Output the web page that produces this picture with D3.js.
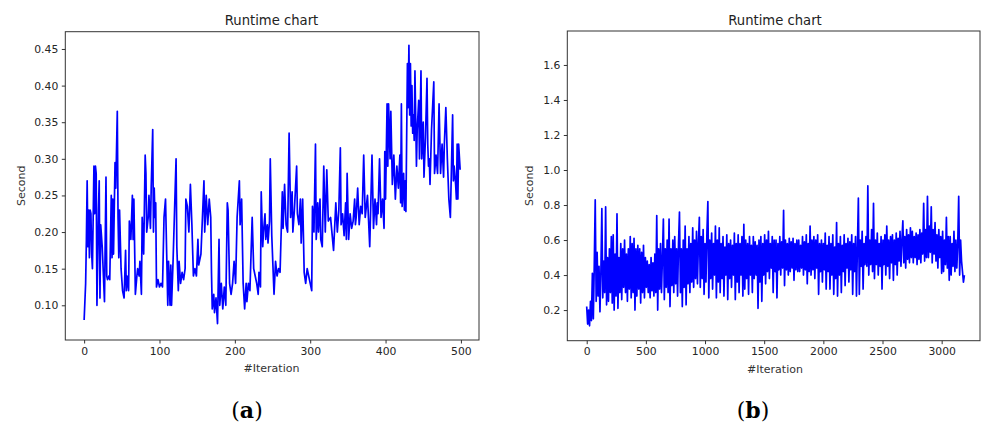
<!DOCTYPE html>
<html>
<head>
<meta charset="utf-8">
<script src="https://cdn.jsdelivr.net/npm/d3@7"></script>
<style>
  body { margin: 0; background: #fff; }
  svg { display: block; font-family: "DejaVu Sans", sans-serif; }
  .tick text { fill: #262626; }
</style>
</head>
<body>
<div id="graph"></div>
<script>
// panel (a) : 500 iterations
let iterA = [0,2,3,4,5,6,7,8,9,10,11,13,14,15,16,17,19,20,21,22,24,27,29,30,31,33,34,36,37,38,39,41,42,44,45,46,47,49,51,53,55,56,57,59,60,62,64,65,66,68,70,71,73,74,76,77,79,81,82,83,85,86,88,89,91,92,93,94,95,96,98,100,102,104,106,108,111,112,114,115,116,118,120,122,123,125,126,128,130,132,134,135,137,139,141,143,145,147,149,151,152,155,157,159,160,162,164,166,168,169,170,172,173,175,177,179,180,182,184,186,188,190,191,193,195,197,199,201,203,206,207,209,211,213,215,216,218,220,223,225,227,229,231,232,234,235,237,238,240,241,243,244,246,247,249,252,254,256,258,260,263,264,266,268,270,272,274,276,277,279,282,283,285,287,288,290,292,294,296,298,300,302,303,305,307,308,310,311,313,314,316,318,320,322,324,327,331,334,336,338,340,341,343,345,347,348,349,351,353,355,357,359,360,361,363,365,367,369,371,373,376,379,382,384,386,388,389,390,392,394,396,398,399,400,402,403,404,406,407,409,411,413,415,417,419,420,421,422,424,425,426,427,429,430,431,432,433,434,435,436,437,438,439,441,442,444,445,447,448,450,451,453,455,456,457,458,459,461,464,465,467,469,471,473,475,477,478,480,482,484,486,489,490,491,493,494,495,496,497,499];
let secA = [0.08,0.13,0.19,0.27,0.18,0.23,0.165,0.23,0.225,0.17,0.15,0.29,0.225,0.29,0.28,0.10,0.23,0.27,0.11,0.21,0.18,0.105,0.275,0.14,0.135,0.14,0.135,0.25,0.165,0.245,0.17,0.295,0.26,0.365,0.22,0.165,0.23,0.15,0.12,0.11,0.175,0.12,0.14,0.12,0.215,0.19,0.25,0.19,0.245,0.115,0.14,0.15,0.14,0.16,0.115,0.22,0.17,0.305,0.28,0.20,0.22,0.25,0.205,0.26,0.34,0.20,0.26,0.22,0.24,0.125,0.135,0.125,0.13,0.125,0.22,0.245,0.10,0.16,0.10,0.155,0.10,0.16,0.23,0.30,0.18,0.12,0.16,0.13,0.145,0.135,0.15,0.245,0.235,0.20,0.265,0.21,0.14,0.15,0.14,0.19,0.155,0.17,0.22,0.27,0.20,0.25,0.21,0.245,0.22,0.145,0.095,0.115,0.09,0.11,0.075,0.19,0.10,0.13,0.095,0.125,0.10,0.24,0.23,0.13,0.115,0.13,0.16,0.13,0.22,0.27,0.21,0.245,0.13,0.095,0.13,0.105,0.13,0.12,0.22,0.15,0.14,0.13,0.115,0.145,0.125,0.255,0.18,0.20,0.225,0.19,0.21,0.185,0.215,0.30,0.195,0.115,0.16,0.14,0.15,0.145,0.255,0.205,0.265,0.21,0.20,0.335,0.22,0.255,0.20,0.23,0.29,0.225,0.21,0.245,0.185,0.245,0.145,0.13,0.15,0.14,0.13,0.12,0.235,0.20,0.32,0.19,0.24,0.20,0.245,0.19,0.18,0.29,0.20,0.285,0.215,0.22,0.175,0.24,0.20,0.23,0.315,0.21,0.225,0.195,0.24,0.19,0.28,0.19,0.225,0.205,0.215,0.245,0.21,0.22,0.26,0.21,0.235,0.225,0.305,0.22,0.25,0.18,0.305,0.205,0.245,0.21,0.24,0.225,0.30,0.22,0.245,0.205,0.31,0.245,0.375,0.29,0.375,0.30,0.365,0.265,0.305,0.245,0.29,0.26,0.305,0.24,0.375,0.235,0.28,0.23,0.27,0.228,0.43,0.37,0.455,0.36,0.43,0.345,0.40,0.335,0.36,0.325,0.42,0.29,0.34,0.38,0.30,0.42,0.30,0.35,0.275,0.33,0.41,0.32,0.29,0.30,0.265,0.34,0.405,0.28,0.305,0.28,0.375,0.28,0.32,0.275,0.32,0.37,0.30,0.245,0.22,0.36,0.27,0.29,0.265,0.245,0.32,0.245,0.32,0.285];

// panel (b) : ~3200 iterations, sampled every 8 iterations off the picture
let iterB = d3.range(0, 3200, 8);
let secB = [
  0.22,0.12,0.20,0.11,0.25,0.14,0.41,0.15,
  0.46,0.83,0.25,0.53,0.28,0.45,0.19,0.42,
  0.78,0.27,0.48,0.30,0.79,0.23,0.50,0.25,
  0.55,0.30,0.62,0.24,0.63,0.20,0.52,0.28,
  0.75,0.21,0.50,0.30,0.58,0.26,0.55,0.33,
  0.60,0.30,0.52,0.25,0.55,0.32,0.62,0.27,
  0.58,0.30,0.61,0.20,0.55,0.28,0.57,0.32,
  0.55,0.24,0.53,0.30,0.57,0.27,0.50,0.33,
  0.48,0.30,0.46,0.27,0.50,0.31,0.47,0.28,
  0.52,0.30,0.74,0.20,0.55,0.32,0.58,0.30,
  0.50,0.72,0.26,0.55,0.33,0.60,0.30,0.72,
  0.22,0.55,0.34,0.60,0.30,0.62,0.35,0.55,
  0.28,0.58,0.76,0.30,0.55,0.22,0.60,0.33,
  0.68,0.23,0.55,0.35,0.62,0.30,0.58,0.36,
  0.67,0.33,0.60,0.38,0.65,0.35,0.58,0.73,
  0.33,0.62,0.38,0.66,0.29,0.58,0.36,0.64,
  0.82,0.27,0.60,0.38,0.64,0.32,0.58,0.40,
  0.68,0.27,0.60,0.36,0.67,0.30,0.58,0.38,
  0.62,0.28,0.56,0.40,0.63,0.26,0.58,0.38,
  0.60,0.33,0.57,0.40,0.64,0.26,0.58,0.36,
  0.63,0.30,0.58,0.40,0.62,0.28,0.69,0.32,
  0.60,0.38,0.58,0.29,0.62,0.40,0.57,0.30,
  0.62,0.38,0.59,0.40,0.57,0.21,0.60,0.36,
  0.62,0.25,0.58,0.40,0.63,0.35,0.60,0.42,
  0.65,0.38,0.58,0.44,0.62,0.30,0.60,0.42,
  0.60,0.27,0.58,0.43,0.62,0.40,0.59,0.44,
  0.77,0.34,0.60,0.43,0.58,0.40,0.61,0.42,
  0.59,0.44,0.61,0.37,0.58,0.43,0.60,0.42,
  0.60,0.42,0.57,0.44,0.62,0.40,0.59,0.43,
  0.63,0.35,0.58,0.42,0.68,0.40,0.60,0.43,
  0.62,0.38,0.60,0.44,0.63,0.29,0.58,0.42,
  0.60,0.36,0.58,0.43,0.64,0.32,0.57,0.42,
  0.62,0.32,0.58,0.40,0.63,0.29,0.56,0.38,
  0.70,0.28,0.58,0.40,0.62,0.30,0.57,0.42,
  0.63,0.34,0.58,0.44,0.61,0.36,0.59,0.43,
  0.63,0.29,0.58,0.42,0.62,0.28,0.56,0.84,
  0.29,0.60,0.45,0.65,0.32,0.58,0.46,0.62,
  0.45,0.91,0.40,0.60,0.46,0.66,0.42,0.81,
  0.38,0.60,0.46,0.64,0.40,0.58,0.45,0.62,
  0.32,0.60,0.46,0.63,0.40,0.68,0.45,0.60,
  0.38,0.62,0.47,0.63,0.37,0.60,0.46,0.64,
  0.40,0.61,0.48,0.65,0.45,0.60,0.71,0.47,
  0.62,0.44,0.66,0.49,0.63,0.47,0.67,0.50,
  0.65,0.47,0.62,0.50,0.64,0.46,0.63,0.49,
  0.66,0.47,0.64,0.52,0.81,0.48,0.66,0.50,
  0.85,0.50,0.68,0.53,0.79,0.47,0.66,0.52,
  0.70,0.48,0.63,0.44,0.66,0.50,0.62,0.41,
  0.65,0.42,0.60,0.46,0.73,0.44,0.62,0.37,
  0.62,0.40,0.58,0.45,0.65,0.42,0.60,0.44,
  0.58,0.85,0.40,0.60,0.48,0.42,0.36,0.40
];

// axis limits + ticks
let xLimA = [-25, 524], yLimA = [0.0526, 0.4736];
let xTicksA = [0, 100, 200, 300, 400, 500];
let yTicksA = [0.10, 0.15, 0.20, 0.25, 0.30, 0.35, 0.40, 0.45];
let xLimB = [-164, 3324], yLimB = [0.025, 1.794];
let xTicksB = [0, 500, 1000, 1500, 2000, 2500, 3000];
let yTicksB = [0.2, 0.4, 0.6, 0.8, 1.0, 1.2, 1.4, 1.6];

let svg = d3.select("#graph")
  .append("svg")
  .attr("width", 981)
  .attr("height", 428);

function drawPanel(opt) {
  let x = d3.scaleLinear().domain(opt.xLim).range([opt.left, opt.right]);
  let y = d3.scaleLinear().domain(opt.yLim).range([opt.bottom, opt.top]);
  let g = svg.append("g");

  g.append("clipPath").attr("id", opt.id)
    .append("rect")
    .attr("x", opt.left).attr("y", opt.top)
    .attr("width", opt.right - opt.left).attr("height", opt.bottom - opt.top);

  // the line
  let pts = opt.xs.map((d, i) => [d, opt.ys[i]]);
  g.append("path")
    .datum(pts)
    .attr("clip-path", "url(#" + opt.id + ")")
    .attr("fill", "none")
    .attr("stroke", "#0000ff")
    .attr("stroke-width", opt.lw)
    .attr("stroke-linejoin", "round")
    .attr("d", d3.line().x(d => x(d[0])).y(d => y(d[1])));

  // axes
  let xa = g.append("g")
    .attr("transform", "translate(0," + opt.bottom + ")")
    .call(d3.axisBottom(x).tickValues(opt.xTicks).tickSize(3.5).tickPadding(3.5).tickFormat(d3.format("d")));
  let ya = g.append("g")
    .attr("transform", "translate(" + opt.left + ",0)")
    .call(d3.axisLeft(y).tickValues(opt.yTicks).tickSize(3.5).tickPadding(3.5).tickFormat(d3.format(opt.yFmt)));
  [xa, ya].forEach(a => {
    a.select(".domain").remove();
    a.selectAll("line").attr("stroke", "#333");
    a.selectAll("text").attr("font-size", 10.8).attr("font-family", "DejaVu Sans");
  });

  // frame
  g.append("rect")
    .attr("x", opt.left).attr("y", opt.top)
    .attr("width", opt.right - opt.left).attr("height", opt.bottom - opt.top)
    .attr("fill", "none").attr("stroke", "#333").attr("stroke-width", 1);

  g.append("text").attr("x", opt.titleX).attr("y", 24.5)
    .attr("text-anchor", "middle").attr("font-size", 13.2).attr("fill", "#222")
    .text("Runtime chart");
  g.append("text").attr("x", opt.titleX).attr("y", opt.xlabY)
    .attr("text-anchor", "middle").attr("font-size", 11).attr("fill", "#333")
    .text("#Iteration");
  g.append("text")
    .attr("transform", "translate(" + opt.ylabX + "," + (opt.top + opt.bottom) / 2 + ") rotate(-90)")
    .attr("text-anchor", "middle").attr("font-size", 11).attr("fill", "#333")
    .text("Second");

  // sub caption (a)/(b)
  let cap = g.append("text").attr("x", opt.capX).attr("y", 418)
    .attr("text-anchor", "middle").attr("font-size", 22)
    .attr("font-family", "'DejaVu Serif', serif").attr("fill", "#000");
  cap.append("tspan").text("(");
  cap.append("tspan").attr("font-weight", "bold").text(opt.cap);
  cap.append("tspan").text(")");
}

drawPanel({id: "clipA", xs: iterA, ys: secA, xLim: xLimA, yLim: yLimA,
  xTicks: xTicksA, yTicks: yTicksA, yFmt: ".2f",
  left: 65.3, right: 479, top: 31.7, bottom: 340, lw: 1.7,
  titleX: 271.5, xlabY: 371.5, ylabX: 24.5, capX: 247, cap: "a"});

drawPanel({id: "clipB", xs: iterB, ys: secB, xLim: xLimB, yLim: yLimB,
  xTicks: xTicksB, yTicks: yTicksB, yFmt: ".1f",
  left: 567.3, right: 980, top: 31, bottom: 340.7, lw: 1.7,
  titleX: 775, xlabY: 373, ylabX: 533, capX: 753, cap: "b"});
</script>
</body>
</html>
